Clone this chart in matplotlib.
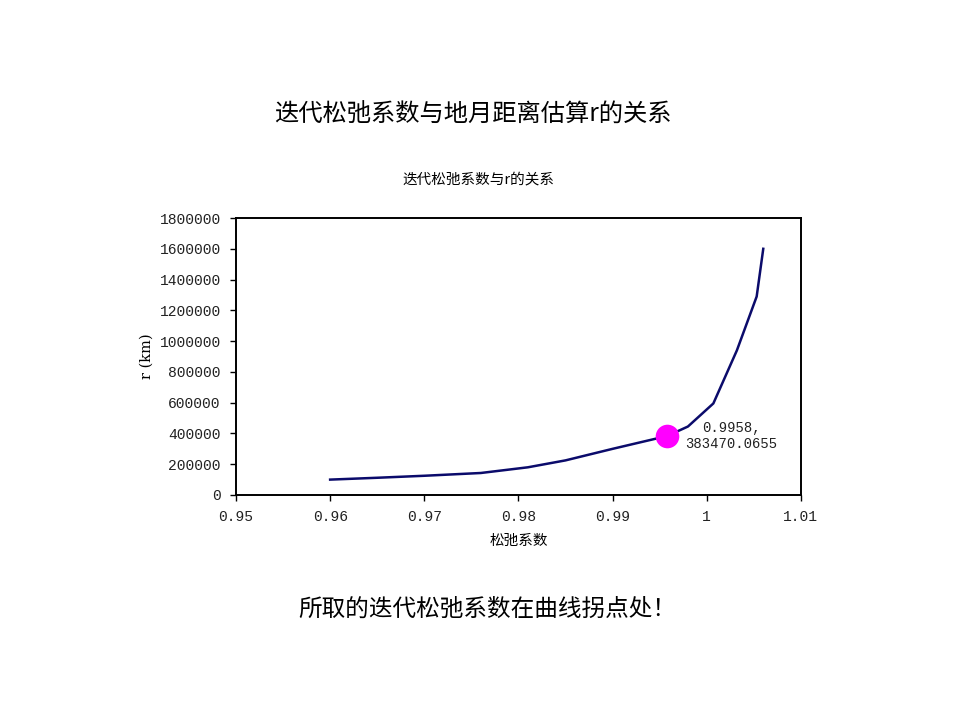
import numpy as np
import matplotlib
matplotlib.use("Agg")
import matplotlib.pyplot as plt

plt.rcParams['font.family'] = ['Noto Sans CJK SC', 'DejaVu Sans']

# relaxation coefficient vs estimated earth-moon distance r (km)
relax = [0.960, 0.965, 0.970, 0.976, 0.981, 0.985, 0.990, 0.9958,
         0.998, 1.0007, 1.0032, 1.0053, 1.006]
r_km = [100000, 112000, 125000, 143000, 180000, 225000, 300000, 383470.0655,
        445000, 595000, 940000, 1290000, 1600000]

chosen_x = 0.9958
chosen_r = 383470.0655

x_ticks = [0.95, 0.96, 0.97, 0.98, 0.99, 1.00, 1.01]
x_tick_labels = ["0.95", "0.96", "0.97", "0.98", "0.99", "1", "1.01"]
y_ticks = list(range(0, 1800001, 200000))

tick_font = "Liberation Mono"

fig = plt.figure(figsize=(9.6, 7.2), dpi=100)
ax = fig.add_axes([0.2458, 0.3125, 0.5885, 0.3847])

ax.plot(relax, r_km, color="#0b0b6b", linewidth=1.8, zorder=2)
ax.plot([chosen_x], [chosen_r], "o", color="#ff00ff", markersize=17,
        markeredgewidth=0, zorder=3)
ax.annotate("0.9958,\n383470.0655", xy=(chosen_x, chosen_r),
            xytext=(13, 0), textcoords="offset points",
            ha="left", va="center", multialignment="center",
            fontsize=10, family=tick_font, color="#222222")

ax.set_xlim(0.95, 1.01)
ax.set_ylim(0, 1800000)
ax.set_xticks(x_ticks)
ax.set_xticklabels(x_tick_labels)
ax.set_yticks(y_ticks)
ax.set_yticklabels([str(v) for v in y_ticks])
for lbl in ax.get_xticklabels() + ax.get_yticklabels():
    lbl.set_family(tick_font)
    lbl.set_fontsize(10.5)
    lbl.set_color("#222222")
ax.tick_params(direction="out", length=4, width=1, pad=7)
for s in ax.spines.values():
    s.set_linewidth(1.4)

ax.set_xlabel("松弛系数", fontsize=10.5, labelpad=7)
ax.set_ylabel("r (km)", fontsize=10.5, labelpad=4,
              family=['DejaVu Serif'])

fig.text(0.498, 0.751, "迭代松弛系数与r的关系", ha="center",
         va="center", fontsize=10.5)
fig.text(0.4925, 0.840, "迭代松弛系数与地月距离估算r的关系", ha="center",
         va="center", fontsize=17.5)
fig.text(0.5075, 0.154, "所取的迭代松弛系数在曲线拐点处！", ha="center",
         va="center", fontsize=17)

fig.savefig("out.png", dpi=100)
